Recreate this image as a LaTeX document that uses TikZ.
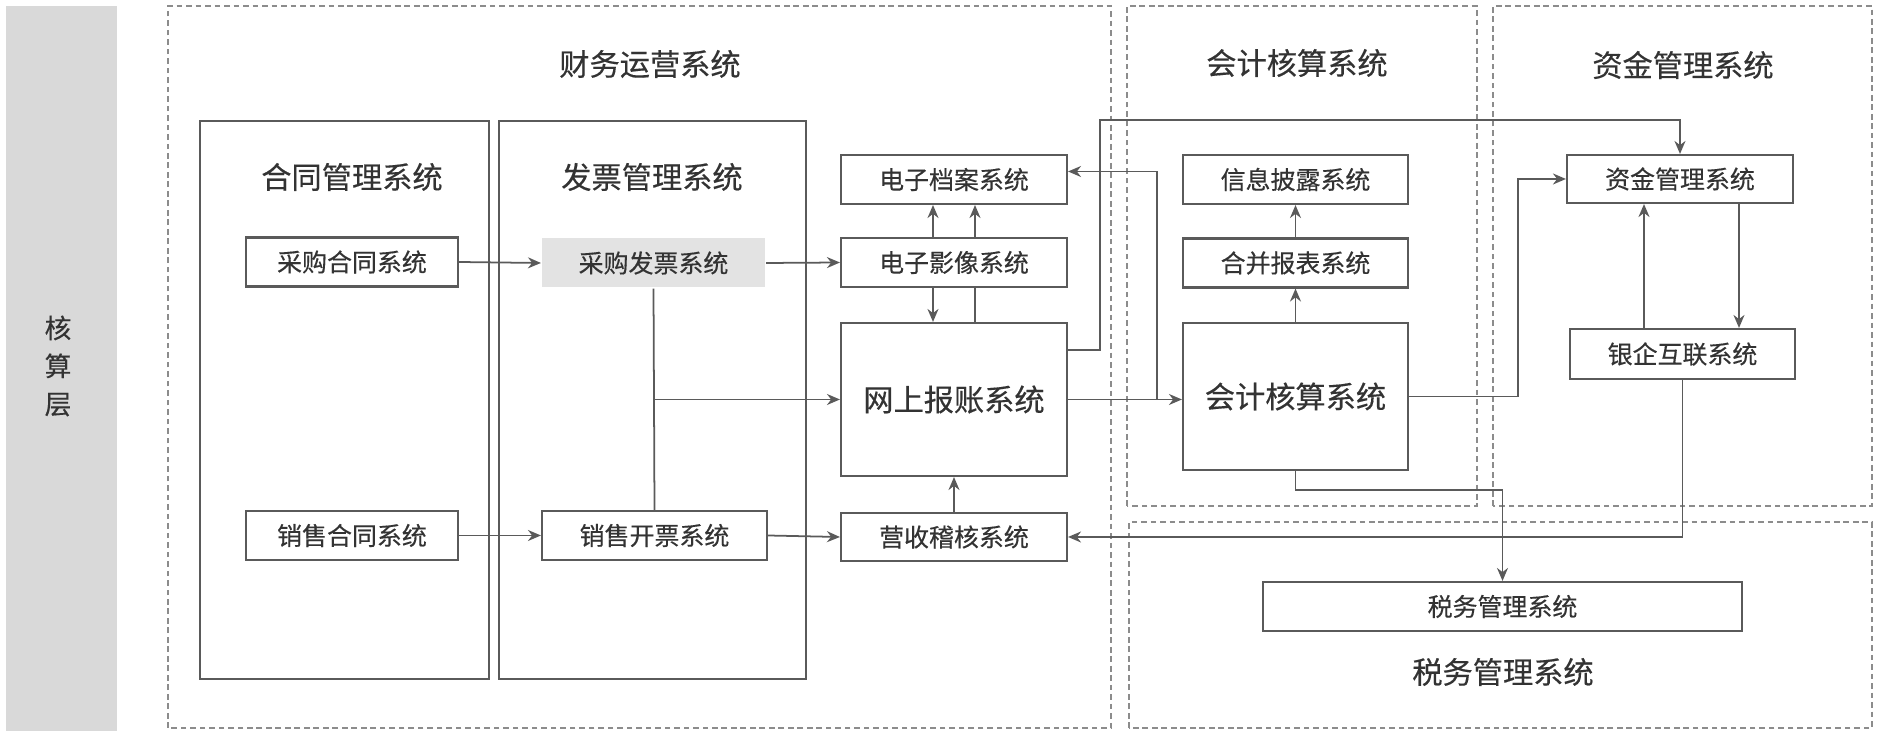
\documentclass[tikz,border=0pt]{standalone}
\usepackage{fontspec}
\usetikzlibrary{arrows.meta,positioning,calc}
\newfontfamily\cjk[FakeBold=0.35]{Noto Sans CJK SC}
\definecolor{Ink}{HTML}{333333}
\definecolor{Wire}{HTML}{5A5A5A}
\definecolor{Frame}{HTML}{8C8C8C}
\definecolor{Band}{HTML}{D9D9D9}
\definecolor{Shade}{HTML}{E3E3E3}

\begin{document}
\begin{tikzpicture}[x=1cm,y=1cm,
  sysbox/.style={draw=Wire,line width=0.6pt,inner sep=0pt,text=Ink,font=\cjk\fontsize{7.1}{8}\selectfont,minimum height=0.49cm},
  bigtext/.style={font=\cjk\fontsize{8.6}{10}\selectfont},
  groupbox/.style={draw=Wire,line width=0.6pt,inner sep=0pt,minimum height=5.58cm},
  zone/.style={draw=Frame,line width=0.6pt,dash pattern=on 1.6pt off 1.1pt},
  zonetitle/.style={text=Ink,inner sep=0pt,bigtext},
  wire/.style={Wire,line width=0.5pt},
  flow/.style={wire,-{Stealth[length=1.3mm,width=1.1mm]}}]
\useasboundingbox (0,0) rectangle (18.78,7.42);

% layer band
\fill[Band] (0.06,0.11) rectangle (1.17,7.36);
\node[text=Ink,inner sep=0pt,align=center,font=\cjk\fontsize{7.6}{10.8}\selectfont] (layer) at (0.58,3.76) {核\\算\\层};

% dashed zones
\draw[zone] (1.68,0.14) rectangle (11.11,7.36);
\draw[zone] (11.27,2.36) rectangle (14.77,7.36);
\draw[zone] (14.93,2.36) rectangle (18.72,7.36);
\draw[zone] (11.29,0.14) rectangle (18.72,2.20);
\node[zonetitle] (tcwyy) at (6.50,6.78) {财务运营系统};
\node[zonetitle] (tkjhs) at (12.97,6.79) {会计核算系统};
\node[zonetitle] (tzjgl) at (16.83,6.77) {资金管理系统};
\node[zonetitle] (tswgl) at (15.03,0.70) {税务管理系统};

% contract and invoice groups
\node[groupbox,minimum width=2.89cm] (htgl) at (3.445,3.42) {};
\node[groupbox,minimum width=3.07cm] (fpgl) at (6.525,3.42) {};
\node[zonetitle] (thtgl) at (3.52,5.65) {合同管理系统};
\node[zonetitle] (tfpgl) at (6.52,5.65) {发票管理系统};

% systems
\node[sysbox,minimum width=2.12cm] (cght) at (3.52,4.80) {采购合同系统};
\node[sysbox,minimum width=2.23cm,draw=none,fill=Shade] (cgfp) at (6.535,4.79) {采购发票系统};
\node[sysbox,minimum width=2.12cm] (xsht) at (3.52,2.065) {销售合同系统};
\node[sysbox,minimum width=2.25cm] (xskp) at (6.545,2.065) {销售开票系统};
\node[sysbox,minimum width=2.26cm] (dzda) at (9.54,5.625) {电子档案系统};
\node[sysbox,minimum width=2.26cm] (dzyx) at (9.54,4.795) {电子影像系统};
\node[sysbox,bigtext,minimum width=2.26cm,minimum height=1.53cm] (wsbz) at (9.54,3.425) {网上报账系统};
\node[sysbox,minimum width=2.26cm,minimum height=0.48cm] (ysjh) at (9.54,2.05) {营收稽核系统};
\node[sysbox,minimum width=2.25cm] (xxpl) at (12.955,5.625) {信息披露系统};
\node[sysbox,minimum width=2.25cm] (hbbb) at (12.955,4.79) {合并报表系统};
\node[sysbox,bigtext,minimum width=2.25cm,minimum height=1.47cm] (kjhs) at (12.955,3.455) {会计核算系统};
\node[sysbox,minimum width=2.26cm,minimum height=0.48cm] (zjgl) at (16.80,5.63) {资金管理系统};
\node[sysbox,minimum width=2.25cm,minimum height=0.50cm] (yqhl) at (16.825,3.88) {银企互联系统};
\node[sysbox,minimum width=4.79cm] (swgl) at (15.025,1.355) {税务管理系统};

% helper points
\coordinate (jn) at ([xshift=0.89cm]wsbz.east);
\coordinate (bend) at (11.00,6.22);

% flows on the left
\draw[flow] (cght.east) -- (cgfp.west);
\draw[flow] (cgfp.east) -- (dzyx.west);
\draw[wire] (cgfp.south) -- (xskp.north);
\draw[flow] (cgfp.south |- wsbz.west) -- (wsbz.west);
\draw[flow] (xsht.east) -- (xskp.west);
\draw[flow] (xskp.east) -- (ysjh.west);
\draw[flow] (ysjh.north) -- (wsbz.south);

% image and archive
\draw[flow] ([xshift=-0.21cm]dzyx.north) -- ([xshift=-0.21cm]dzda.south);
\draw[flow] ([xshift=0.21cm]dzyx.north) -- ([xshift=0.21cm]dzda.south);
\draw[flow] ([xshift=-0.21cm]dzyx.south) -- ([xshift=-0.21cm]wsbz.north);
\draw[wire] ([xshift=0.21cm]wsbz.north) -- ([xshift=0.21cm]dzyx.south);

% reimbursement outputs
\draw[flow] ([yshift=0.495cm]wsbz.east) -| (bend) -| (zjgl.north);
\draw[flow] (wsbz.east) -- (wsbz.east -| kjhs.west);
\draw[flow] (jn) |- ([yshift=0.08cm]dzda.east);

% accounting
\draw[flow] (hbbb.north) -- (xxpl.south);
\draw[flow] (kjhs.north) -- (hbbb.south);
\draw[flow] (kjhs.east) -- ++(1.09,0) |- (zjgl.west);
\draw[flow] (kjhs.south) -- ++(0,-0.19) -| (swgl.north);

% funds and bank
\draw[flow] ([xshift=0.59cm]zjgl.south) -- ([xshift=0.59cm]zjgl.south |- yqhl.north);
\draw[flow] ([xshift=-0.36cm]zjgl.south |- yqhl.north) -- ([xshift=-0.36cm]zjgl.south);
\draw[flow] (yqhl.south) |- (ysjh.east);
\end{tikzpicture}
\end{document}
